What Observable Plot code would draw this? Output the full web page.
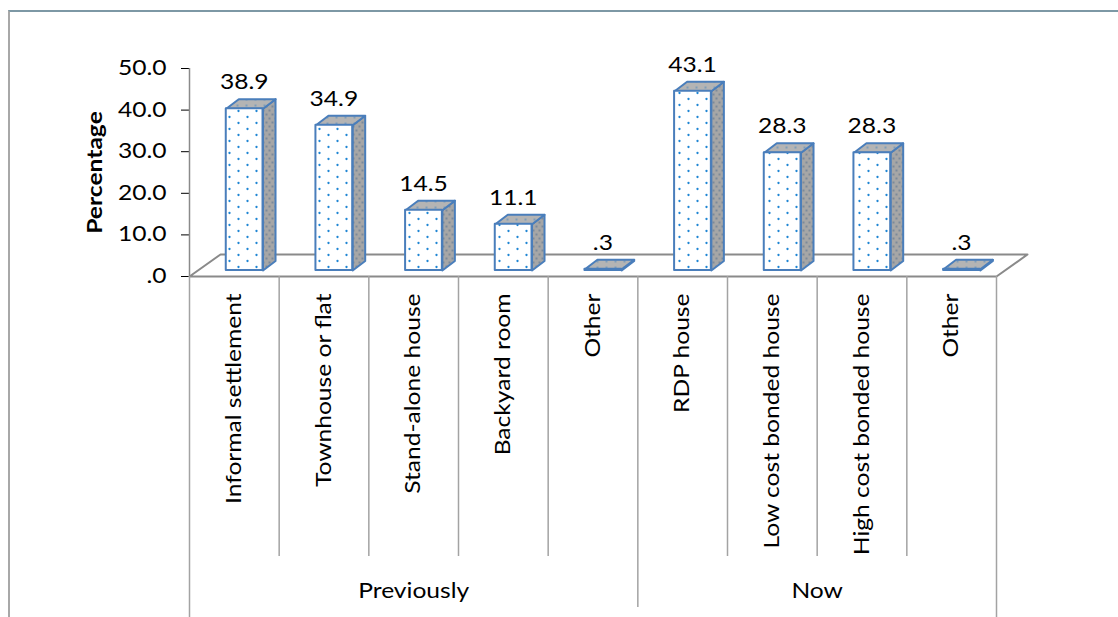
<!DOCTYPE html>
<html>
<head>
<meta charset="utf-8">
<script src="https://cdn.jsdelivr.net/npm/d3@7"></script>
<script src="https://cdn.jsdelivr.net/npm/@observablehq/plot@0.6"></script>
<style>
  html, body { margin: 0; padding: 0; background: #fff; overflow: hidden; }
  #wrap { position: relative; width: 1118px; height: 617px; }
  #frame { position: absolute; left: 8px; top: 10px; right: -10px; bottom: -10px;
           border-top: 2px solid #7d98a5; border-left: 2px solid #a8a8a8; pointer-events: none; }
  #chart { position: absolute; left: 0; top: 0; }
</style>
</head>
<body>
<div id="wrap"><div id="chart"></div><div id="frame"></div></div>
<script>
// ---- data ----
const categories = ["Informal settlement", "Townhouse or flat", "Stand-alone house", "Backyard room", "Other",
                    "RDP house", "Low cost bonded house", "High cost bonded house", "Other"];
const values = [38.9, 34.9, 14.5, 11.1, 0.3, 43.1, 28.3, 28.3, 0.3];
const valueLabels = ["38.9", "34.9", "14.5", "11.1", ".3", "43.1", "28.3", "28.3", ".3"];
const groupNames = ["Previously", "Now"];
const groupSizes = [5, 4];
const yTicks = [0, 10, 20, 30, 40, 50];
const yLabel = "Percentage";

// ---- geometry (style) ----
const W = 1118, H = 617;
const mL = 189, mR = 122, mT = 68, mB = 341;
const n = categories.length;
const pxX = (W - mL - mR) / n;          // px per x unit
const pxY = (H - mT - mB) / 50;         // px per y unit
const base = 6 / pxY;                    // bar base lifted into floor depth
const faceL = 0.41, faceR = 0.82;        // front-face position inside column
const ddx = 12.5 / pxX, ddy = 9.5 / pxY; // bar depth offset
const floorDx = 31 / pxX, floorDy = 22 / pxY;
const blue = "#4a7ebb";
const FS = 20.5;       // font size
const STRETCH = 1.2;   // horizontal glyph stretch of the original rendering

const bars = categories.map((c, i) => ({i, c, v: values[i], label: valueLabels[i],
  x1: i + faceL, x2: i + faceR, y1: base, y2: base + values[i]}));

const sides = [], tops = [];
for (const b of bars) {
  [[b.x2, b.y1], [b.x2, b.y2], [b.x2 + ddx, b.y2 + ddy], [b.x2 + ddx, b.y1 + ddy], [b.x2, b.y1]]
    .forEach(([x, y]) => sides.push({id: b.i, x, y}));
  [[b.x1, b.y2], [b.x2, b.y2], [b.x2 + ddx, b.y2 + ddy], [b.x1 + ddx, b.y2 + ddy], [b.x1, b.y2]]
    .forEach(([x, y]) => tops.push({id: b.i, x, y}));
}
const floor = [[0, 0], [floorDx, floorDy], [n + floorDx, floorDy], [n, 0], [0, 0]].map(([x, y]) => ({x, y}));

// separators
const bounds = [0];
groupSizes.forEach(s => bounds.push(bounds[bounds.length - 1] + s));
const seps = d3.range(n + 1).map(k => ({
  x: k,
  y2: (k === 0 || k === n) ? -(H - 276 + 10) / pxY : (bounds.includes(k) ? -(607 - 276) / pxY : -(556 - 276) / pxY)
}));
const groups = groupNames.map((g, j) => ({g, x: (bounds[j] + bounds[j + 1]) / 2}));

const chart = Plot.plot({
  width: W, height: H,
  marginLeft: mL, marginRight: mR, marginTop: mT, marginBottom: mB,
  style: {fontFamily: "Lato, 'Open Sans', sans-serif", fontSize: FS + "px", color: "#000", background: "transparent", overflow: "visible"},
  x: {domain: [0, n], axis: null},
  y: {domain: [0, 50], ticks: yTicks, tickSize: 8, tickPadding: 15,
      tickFormat: d => d === 0 ? ".0" : d.toFixed(1), label: null},
  marks: [
    // floor
    Plot.line(floor, {x: "x", y: "y", fill: "white", stroke: "#8a8a8a", strokeWidth: 2}),
    // y axis line
    Plot.ruleX([0], {y1: 0, y2: 50, stroke: "#8a8a8a", strokeWidth: 1.5}),
    // category separators
    Plot.ruleX(seps, {x: "x", y1: 0, y2: "y2", stroke: "#a3a3a3", strokeWidth: 1.5}),
    // bars
    Plot.line(sides, {x: "x", y: "y", z: "id", fill: "url(#dotsG)", stroke: blue, strokeWidth: 2, strokeLinejoin: "round"}),
    Plot.line(tops, {x: "x", y: "y", z: "id", fill: "url(#dotsT)", stroke: blue, strokeWidth: 2, strokeLinejoin: "round"}),
    Plot.rect(bars, {x1: "x1", x2: "x2", y1: "y1", y2: "y2", fill: "url(#dotsW)", stroke: blue, strokeWidth: 2, strokeLinejoin: "round"}),
    // value labels
    Plot.text(bars, {x: d => d.i + 0.61, y: "y2", text: "label", dy: -26, lineAnchor: "middle", fontSize: FS, fill: "#000"}),
    // category labels
    Plot.text(bars, {x: d => d.i + 0.5, y: 0, text: "c", rotate: -90, textAnchor: "end", lineAnchor: "middle",
                     dy: 17, fontSize: FS, fill: "#000"}),
    // group labels
    Plot.text(groups, {x: "x", y: 0, text: "g", dy: 315, lineAnchor: "middle", fontSize: FS, fill: "#000"}),
    // y label
    Plot.text([yLabel], {frameAnchor: "left", text: d => d, dx: -94, rotate: -90, textAnchor: "middle",
                         lineAnchor: "middle", fontWeight: "bold", fontSize: FS, fill: "#000"})
  ]
});

// patterns
const defs = `
<defs>
  <pattern id="dotsW" width="18" height="12" patternUnits="userSpaceOnUse">
    <rect width="18" height="12" fill="#ffffff"/>
    <circle cx="4.5" cy="3" r="1.15" fill="#1f86d4"/>
    <circle cx="13.5" cy="9" r="1.15" fill="#1f86d4"/>
  </pattern>
  <pattern id="dotsG" width="6" height="8" patternUnits="userSpaceOnUse">
    <rect width="6" height="8" fill="#a6a6a6"/>
    <circle cx="2" cy="2" r="0.75" fill="#3a5e88"/>
    <circle cx="5" cy="6" r="0.75" fill="#3a5e88"/>
  </pattern>
  <pattern id="dotsT" width="9" height="6" patternUnits="userSpaceOnUse">
    <rect width="9" height="6" fill="#b4b4b4"/>
    <circle cx="3" cy="3" r="0.8" fill="#3a7fc0"/>
  </pattern>
</defs>`;
chart.insertAdjacentHTML("afterbegin", defs);

// widen glyphs along their reading direction, as in the original picture
chart.querySelectorAll("text").forEach(t => {
  t.setAttribute("fill", "#000");
  let tr = t.getAttribute("transform");
  if (!tr) {
    const x = parseFloat(t.getAttribute("x") || "0"), y = t.getAttribute("y");
    const yNum = y != null && /^-?[\d.]+$/.test(y) ? parseFloat(y) : 0;
    tr = `translate(${isNaN(x) ? 0 : x},${yNum})`;
    t.removeAttribute("x");
    if (y != null && /^-?[\d.]+$/.test(y)) t.removeAttribute("y");
  }
  t.setAttribute("transform", tr + ` scale(${STRETCH},1)`);
});
document.getElementById("chart").appendChild(chart);
</script>
</body>
</html>
